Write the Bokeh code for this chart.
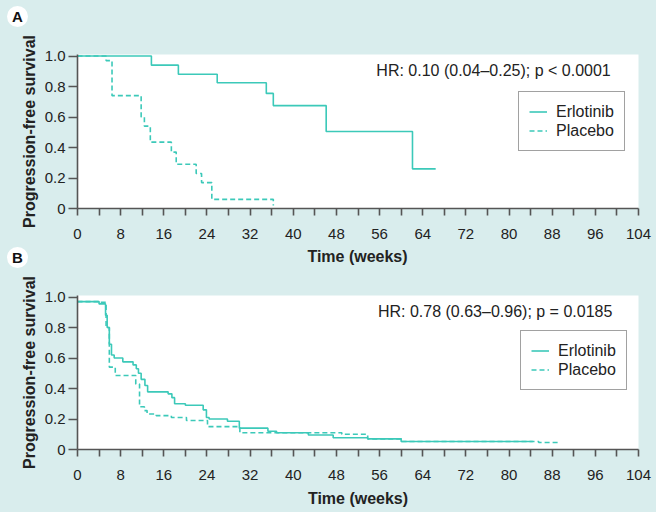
from bokeh.plotting import figure
from bokeh.layouts import column
from bokeh.models import Range1d, FixedTicker, Label, Legend, LegendItem, ColumnDataSource, Div
from bokeh.embed import file_html
from bokeh.resources import INLINE

# ---------------- data ----------------
week_ticks = list(range(0, 105, 4))
week_labels = {t: (str(t) if t % 8 == 0 else "") for t in week_ticks}
surv_ticks = [0, 0.2, 0.4, 0.6, 0.8, 1.0]
surv_labels = {0: "0", 0.2: "0.2", 0.4: "0.4", 0.6: "0.6", 0.8: "0.8", 1.0: "1.0"}

series_names = ["Erlotinib", "Placebo"]
x_title = "Time (weeks)"
y_title = "Progression-free survival"
panel_letters = ["A", "B"]

# Panel A
a_erl_t = [0, 13.7, 18.7, 25.9, 35.0, 36.3, 46.1, 62.1, 66.4]
a_erl_s = [1.0, 0.94, 0.88, 0.825, 0.755, 0.675, 0.505, 0.26, 0.26]
a_pla_t = [0, 5.3, 6.4, 11.8, 12.4, 13.5, 17.4, 18.3, 22.0, 23.0, 24.9, 36.3]
a_pla_s = [1.0, 0.97, 0.74, 0.60, 0.54, 0.435, 0.37, 0.29, 0.23, 0.17, 0.06, 0.02]
a_hr_text = "HR: 0.10 (0.04\u20130.25); p < 0.0001"

# Panel B
b_erl_t = [0, 4.0, 5.2, 5.5, 5.9, 6.3, 6.8, 8.4, 10.3, 10.9, 11.3, 11.8, 12.5, 13.0,
           16.8, 17.5, 18.0, 20.0, 23.3, 23.9, 24.4, 27.8, 30.0, 35.3, 36.9, 42.8,
           47.4, 53.8, 60.0, 84.4]
b_erl_s = [0.97, 0.955, 0.88, 0.80, 0.69, 0.62, 0.60, 0.575, 0.555, 0.53, 0.50, 0.46,
           0.42, 0.378, 0.365, 0.34, 0.30, 0.29, 0.26, 0.21, 0.20, 0.185, 0.14, 0.12,
           0.11, 0.095, 0.077, 0.07, 0.052, 0.052]
b_pla_t = [0, 4.0, 5.3, 5.9, 7.0, 10.8, 11.5, 12.4, 12.9, 14.6, 17.4, 20.2, 24.1,
           30.1, 49.0, 53.8, 60.0, 85.5, 89.1]
b_pla_s = [0.97, 0.965, 0.80, 0.54, 0.485, 0.43, 0.28, 0.255, 0.233, 0.222, 0.21,
           0.19, 0.15, 0.11, 0.10, 0.07, 0.052, 0.046, 0.046]
b_hr_text = "HR: 0.78 (0.63\u20130.96); p = 0.0185"

# ---------------- style ----------------
BG = "#d9eded"
TEAL = "#3cc9b9"
AX = "#555555"
FONT = "Liberation Sans"
W = 656


def letter_span(letter, top):
    return ('<span style="position:absolute;left:7px;top:%dpx;width:21px;height:21px;'
            'border-radius:50%%;background:#ffffff;color:#111111;text-align:center;'
            'line-height:21px;font-family:\'%s\';font-weight:bold;font-size:15px;">%s</span>'
            % (top, FONT, letter))


def make_panel(height, top, bottom, erl_t, erl_s, pla_t, pla_s, hr_text, legend_loc,
               hr_xy, show_xlabel):
    p = figure(width=W, height=height, output_backend="svg", toolbar_location=None,
               x_range=Range1d(0, 104), y_range=Range1d(0, 1.01),
               min_border_left=77, min_border_right=18, min_border_top=top,
               min_border_bottom=bottom)
    p.border_fill_color = BG
    p.background_fill_color = "white"
    p.outline_line_color = None
    p.grid.visible = False

    erl_src = ColumnDataSource(dict(t=erl_t, s=erl_s))
    pla_src = ColumnDataSource(dict(t=pla_t, s=pla_s))
    r1 = p.step("t", "s", source=erl_src, mode="after", line_color=TEAL, line_width=1.6)
    r2 = p.step("t", "s", source=pla_src, mode="after", line_color=TEAL, line_width=1.6,
                line_dash="5 3")

    xa = p.xaxis[0]
    xa.ticker = FixedTicker(ticks=week_ticks)
    xa.major_label_overrides = week_labels
    if show_xlabel:
        xa.axis_label = x_title
    ya = p.yaxis[0]
    ya.ticker = FixedTicker(ticks=surv_ticks)
    ya.major_label_overrides = surv_labels
    ya.axis_label = y_title
    for ax in (xa, ya):
        ax.axis_line_color = AX
        ax.axis_line_width = 1.6
        ax.major_tick_line_color = AX
        ax.major_tick_line_width = 1.6
        ax.major_tick_in = 0
        ax.minor_tick_line_color = None
        ax.major_label_text_font = FONT
        ax.major_label_text_font_size = "15px"
        ax.major_label_text_color = "#222222"
        ax.axis_label_text_font = FONT
        ax.axis_label_text_font_size = "16px"
        ax.axis_label_text_font_style = "bold"
        ax.axis_label_text_color = "#222222"
    xa.major_tick_out = 7
    xa.major_label_standoff = 13
    xa.axis_label_standoff = 7
    ya.major_tick_out = 9
    ya.major_label_standoff = 3
    ya.axis_label_standoff = 4

    legend = Legend(items=[LegendItem(label=series_names[0], renderers=[r1]),
                           LegendItem(label=series_names[1], renderers=[r2])],
                    location=legend_loc, margin=0, padding=10, spacing=0,
                    label_height=19, glyph_height=19, glyph_width=18, label_standoff=9,
                    border_line_color="#444444", border_line_width=1.3,
                    background_fill_color="white", background_fill_alpha=1.0,
                    label_text_font=FONT, label_text_font_size="16px",
                    label_text_color="#222222")
    p.add_layout(legend, "center")

    p.add_layout(Label(x=hr_xy[0], y=hr_xy[1], text=hr_text, text_font=FONT,
                       text_font_size="16px", text_color="#222222",
                       text_baseline="middle", text_align="left"))
    return p


top_div = Div(text='<div style="position:relative;width:%dpx;height:30px;background:%s;">%s</div>'
              % (W, BG, letter_span(panel_letters[0], 6)),
              width=W, height=30, margin=0)

pa = make_panel(216, 24, 38, a_erl_t, a_erl_s, a_pla_t, a_pla_s, a_hr_text, (441, 57),
                (55.4, 0.905), False)

mid_div = Div(text=('<div style="position:relative;width:%dpx;height:24px;background:%s;">%s'
                    '<span style="position:absolute;left:77px;width:561px;top:0px;height:22px;'
                    'line-height:22px;text-align:center;font-family:\'%s\';font-weight:bold;'
                    'font-size:16px;color:#222222;">%s</span></div>')
              % (W, BG, letter_span(panel_letters[1], 1), FONT, x_title),
              width=W, height=24, margin=0)

pb = make_panel(242, 25, 63, b_erl_t, b_erl_s, b_pla_t, b_pla_s, b_hr_text, (443, 59),
                (55.7, 0.907), True)

layout = column(top_div, pa, mid_div, pb, spacing=0)
html = file_html(layout, INLINE)
html = html.replace("</head>", "<style>html,body{background:%s;}</style></head>" % BG, 1)
open("out.html", "w").write(html)
